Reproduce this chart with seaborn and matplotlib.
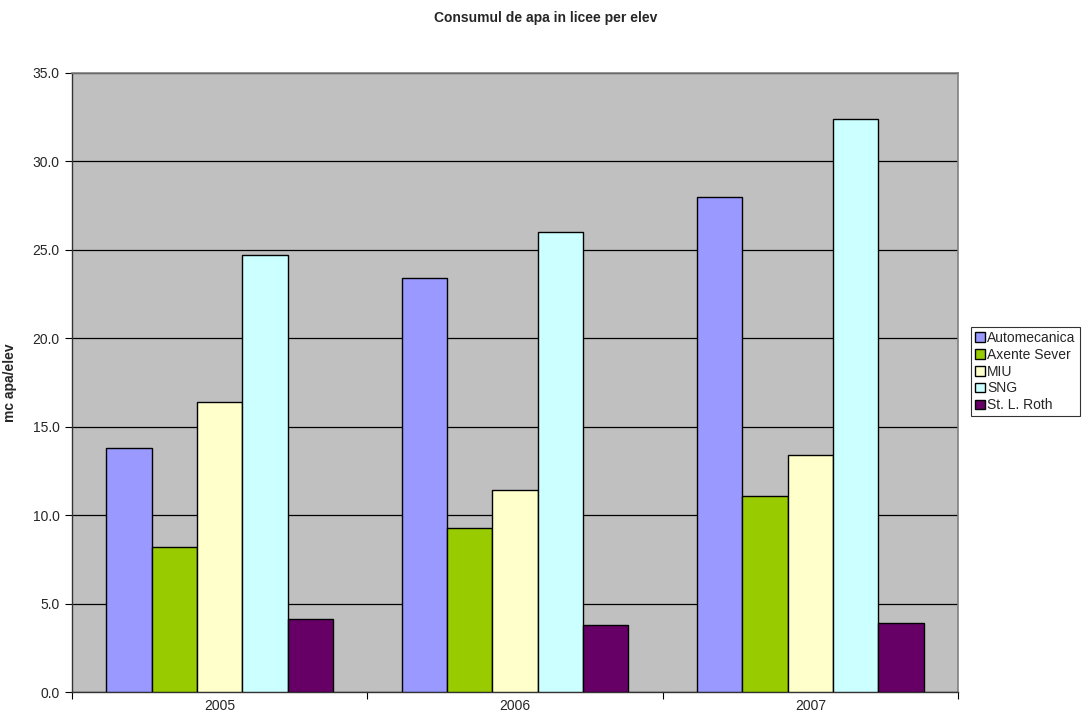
import pandas as pd
import numpy as np
import matplotlib
matplotlib.use("Agg")
import matplotlib.pyplot as plt
import seaborn as sns

# --- DATA ---
years = ["2005", "2006", "2007"]
schools = ["Automecanica", "Axente Sever", "MIU", "SNG", "St. L. Roth"]
automecanica = [13.8, 23.4, 28.0]
axente_sever = [8.2, 9.3, 11.1]
miu = [16.4, 11.4, 13.4]
sng = [24.7, 26.0, 32.4]
st_l_roth = [4.1, 3.8, 3.9]
colors = ["#9999FF", "#99CC00", "#FFFFCC", "#CCFFFF", "#660066"]

series = [automecanica, axente_sever, miu, sng, st_l_roth]
rows = []
for school, vals in zip(schools, series):
    for yr, v in zip(years, vals):
        rows.append({"an": yr, "liceu": school, "val": v})
df = pd.DataFrame(rows)

sns.set_theme(style="white")
plt.rcParams["font.family"] = ["Liberation Sans", "DejaVu Sans"]

fig = plt.figure(figsize=(10.91, 7.26), dpi=100)
ax = fig.add_axes([72 / 1091, 34 / 726, 886 / 1091, 619 / 726])
ax.set_facecolor("#C0C0C0")

sns.barplot(data=df, x="an", y="val", hue="liceu", order=years, hue_order=schools,
            palette=colors, width=0.768, edgecolor="black", linewidth=1.0,
            saturation=1, gap=0, ax=ax, zorder=3)

ax.set_ylim(0, 35)
ax.set_xlim(-0.5, 2.5)
yt = np.arange(0, 35.1, 5)
ax.set_yticks(yt)
ax.set_yticklabels([f"{t:.1f}" for t in yt], fontsize=10)
ax.yaxis.grid(True, color="black", linewidth=0.9, zorder=0)
ax.set_axisbelow(True)
ax.tick_params(axis="y", length=5, width=0.8, color="black", pad=4, left=True)
ax.tick_params(axis="x", which="major", length=0, labelsize=10, pad=5)
ax.set_xticks([-0.5, 0.5, 1.5, 2.5], minor=True)
ax.tick_params(axis="x", which="minor", length=5, width=0.8, color="black", bottom=True)

for side in ["top", "right"]:
    ax.spines[side].set_color("#808080")
    ax.spines[side].set_linewidth(1.2)
for side in ["left", "bottom"]:
    ax.spines[side].set_color("#333333")
    ax.spines[side].set_linewidth(1.0)

ax.set_xlabel("")
ax.set_ylabel("mc apa/elev", fontsize=10, fontweight="bold")
ax.yaxis.set_label_coords(-55 / 886, 0.5)
fig.suptitle("Consumul de apa in licee per elev", fontsize=10, fontweight="bold",
             x=0.5, y=0.985)

ax.legend_.remove()
handles, labels = ax.get_legend_handles_labels()
leg = fig.legend(handles, labels, loc="upper left",
                 bbox_to_anchor=(971 / 1091, 1 - 327 / 726), frameon=True,
                 fontsize=10, handlelength=0.7, handleheight=0.7, handletextpad=0.15,
                 labelspacing=0.2, borderpad=0.3, borderaxespad=0, fancybox=False)
leg.get_frame().set_edgecolor("black")
leg.get_frame().set_linewidth(0.8)
leg.get_frame().set_facecolor("white")

fig.savefig("out.png", dpi=100)
